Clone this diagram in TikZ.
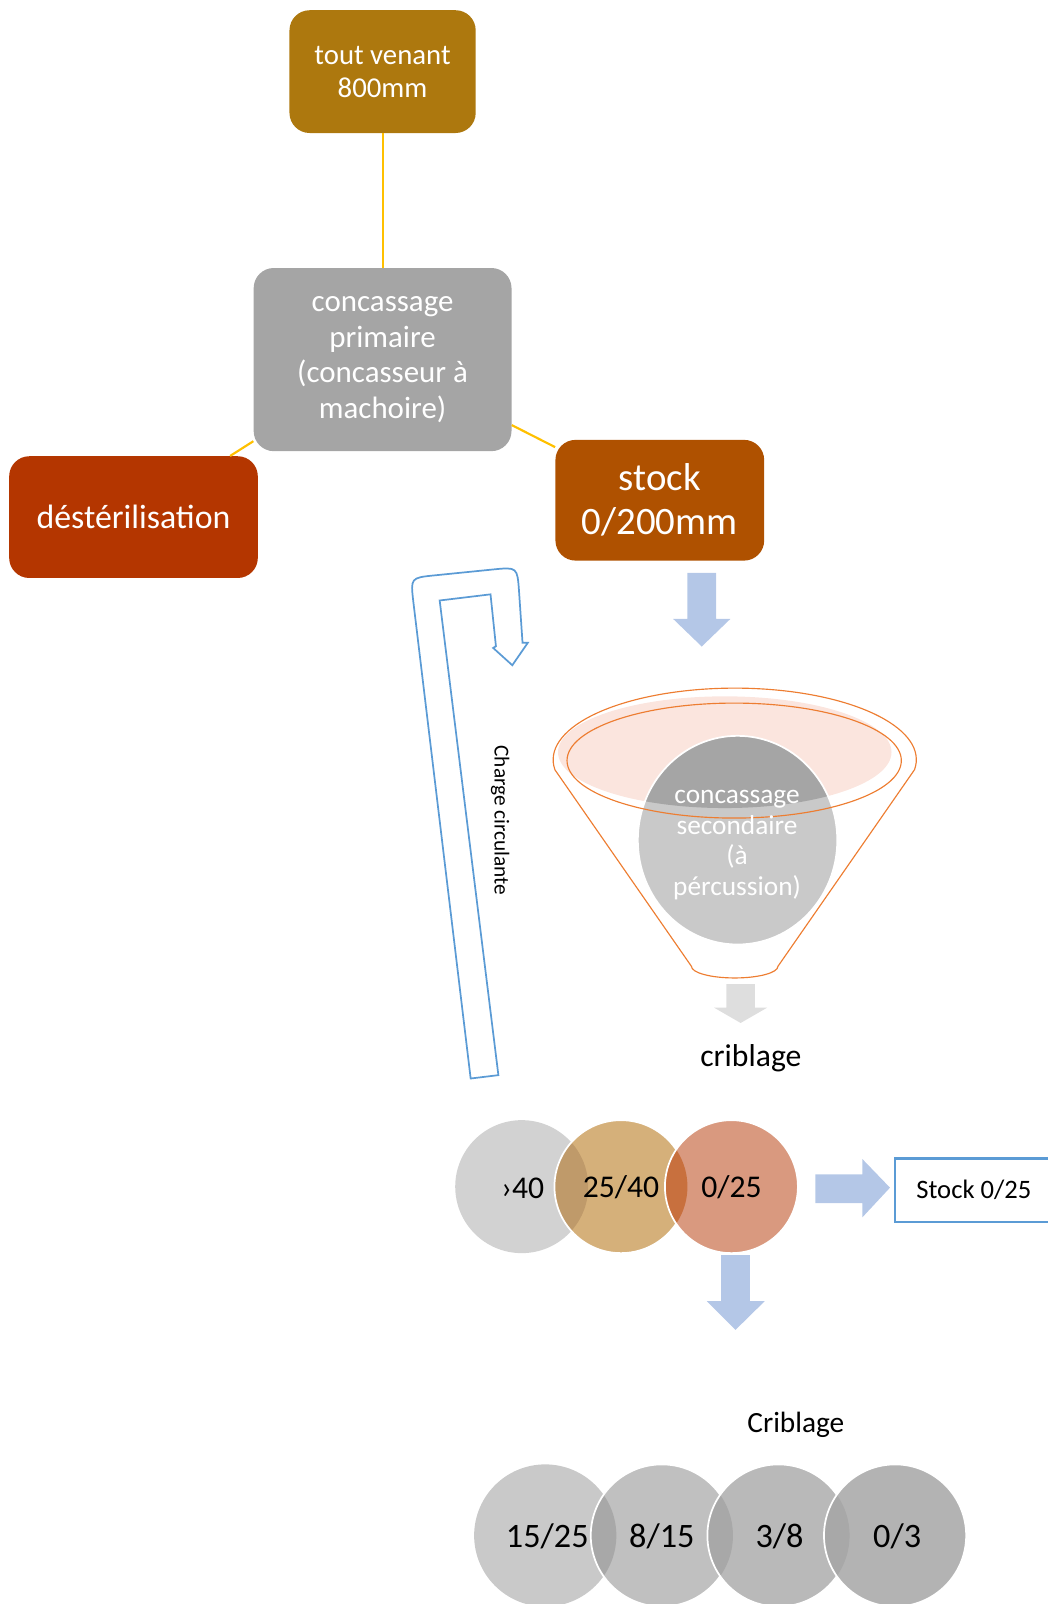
\documentclass[tikz,border=0pt]{standalone}
\usepackage{fontspec}
\setmainfont{Carlito}
\usepackage{tikz}

\definecolor{venantbrown}{RGB}{173,120,14}
\definecolor{primgray}{RGB}{165,165,165}
\definecolor{destred}{RGB}{180,54,0}
\definecolor{stockbrown}{RGB}{175,81,0}
\definecolor{linkyellow}{RGB}{255,192,0}
\definecolor{arrowblue}{RGB}{180,199,231}
\definecolor{loopblue}{RGB}{91,155,213}
\definecolor{funnelorange}{RGB}{237,125,49}
\definecolor{pinkfill}{RGB}{251,229,222}
\definecolor{secgray}{RGB}{201,201,201}
\definecolor{palearrow}{RGB}{222,222,222}
\definecolor{sievegray}{RGB}{210,210,210}
\definecolor{sievetan}{RGB}{213,176,122}
\definecolor{sievesalmon}{RGB}{217,153,127}
\definecolor{overtan}{RGB}{191,154,106}
\definecolor{oversalmon}{RGB}{200,112,62}
\definecolor{fineA}{RGB}{201,201,201}
\definecolor{fineB}{RGB}{192,192,192}
\definecolor{fineC}{RGB}{185,185,185}
\definecolor{fineD}{RGB}{179,179,179}
\definecolor{overfine}{RGB}{168,168,168}

\tikzset{
  procbox/.style={rectangle, rounded corners=14pt, text=white, align=center, inner sep=2pt},
  link/.style={draw=linkyellow, line width=1.5pt},
  blockarrow/.style={fill=arrowblue},
  funnelline/.style={draw=funnelorange, line width=0.8pt},
  rim/.style={draw=white, line width=1.2pt}
}

\begin{document}
\begin{tikzpicture}[x=0.025cm, y=-0.025cm]
    \useasboundingbox (0,0) rectangle (1024,1568);

    \node[procbox, fill=venantbrown, minimum width=4.55cm, minimum height=3cm,
          font=\fontsize{20}{23}\selectfont] (venant) at (374,70) {tout venant\\800mm};
    \node[procbox, fill=primgray, minimum width=6.3cm, minimum height=4.475cm,
          font=\fontsize{21.5}{24.7}\selectfont] (primaire) at (374,351.5)
          {concassage\\primaire\\(concasseur à\\machoire)};
    \node[procbox, fill=destred, minimum width=6.075cm, minimum height=2.975cm,
          font=\fontsize{23.5}{28}\selectfont] (desteril) at (130.5,505.5) {déstérilisation};
    \node[procbox, fill=stockbrown, minimum width=5.1cm, minimum height=2.95cm,
          font=\fontsize{27}{30.6}\selectfont] (stock) at (645,489) {stock\\0/200mm};

    \draw[link] (venant) -- (primaire);
    \draw[link] (primaire) -- (stock);
    \draw[link] (primaire) -- (desteril);

    \fill[blockarrow] (672,560) -- (700,560) -- (700,605) -- (714,605) -- (686,632)
      -- (658,605) -- (672,605) -- cycle;

    \draw[loopblue, line width=1.2pt] (460.1,1054.3) -- (404.1,588.6)
      .. controls (401.3,564.8) .. (425.2,562.4) -- (481.8,556.7)
      .. controls (505.7,554.3) .. (507.4,578.3) -- (510.8,628.3)
      -- (516,628.3) -- (500.8,650.3) -- (482.1,633.4) -- (484.8,631.7)
      -- (479.5,581) -- (429.8,587) -- (487.2,1051) -- cycle;
    \node[rotate=-90, font=\fontsize{14.8}{17}\selectfont] (charge) at (489,802) {Charge circulante};

    \begin{scope}
      \fill[pinkfill] (708.5,735.3) ellipse [x radius=163, y radius=54.6];
      \fill[secgray] (721,821.3) ellipse [x radius=97.5, y radius=102];
      \begin{scope}
        \clip (708.5,735.3) ellipse [x radius=163, y radius=54.6];
        \fill[primgray] (721,821.3) ellipse [x radius=97.5, y radius=102];
      \end{scope}
      \draw[rim] (721,821.3) ellipse [x radius=97.5, y radius=102];
      \draw[funnelline] (717.7,743.5) ellipse [x radius=163.4, y radius=56.2];
      \draw[funnelline] (542.4,752.4) -- (675.9,944.6)
        arc [start angle=180, end angle=0, x radius=42.3, y radius=11.4]
        -- (894,752.4) arc [start angle=8, end angle=-188, x radius=177.5, y radius=70];
    \end{scope}
    \node[text=white, align=center, font=\fontsize{19}{21.3}\selectfont] (secondaire) at (720.5,826)
      {concassage\\secondaire\\(à\\pércussion)};

    \fill[palearrow] (710,962) -- (738,962) -- (738,985) -- (750,985) -- (724,1000)
      -- (698,985) -- (710,985) -- cycle;
    \node[font=\fontsize{22}{26}\selectfont] (criblage) at (734,1034) {criblage};

    \fill[sievegray] (510,1160) circle [radius=65];
    \fill[sievetan] (607,1160) circle [radius=65];
    \begin{scope}
      \clip (510,1160) circle [radius=65];
      \fill[overtan] (607,1160) circle [radius=65];
    \end{scope}
    \draw[rim] (607,1160) circle [radius=65];
    \fill[sievesalmon] (715,1160) circle [radius=65];
    \begin{scope}
      \clip (607,1160) circle [radius=65];
      \fill[oversalmon] (715,1160) circle [radius=65];
    \end{scope}
    \draw[rim] (715,1160) circle [radius=65];

    \node[font=\fontsize{22}{26}\selectfont] (over40) at (511,1162) {›40};
    \node[font=\fontsize{22}{26}\selectfont] (mid2540) at (607,1161) {25/40};
    \node[font=\fontsize{22}{26}\selectfont] (fine025) at (715,1161) {0/25};

    \fill[blockarrow] (797,1148) -- (843,1148) -- (843,1133) -- (870,1161) -- (843,1190)
      -- (843,1176) -- (797,1176) -- cycle;
    \node[draw=loopblue, line width=1.5pt, fill=white, minimum width=3.85cm, minimum height=1.55cm,
          font=\fontsize{18.5}{22}\selectfont] (stockfin) at (952,1163.5) {Stock 0/25};

    \fill[blockarrow] (705,1227) -- (733,1227) -- (733,1272) -- (747.5,1272) -- (719,1300)
      -- (691,1272) -- (705,1272) -- cycle;
    \node[font=\fontsize{20.4}{24}\selectfont] (criblage2) at (778,1393) {Criblage};

    \fill[fineA] (533,1501) circle [radius=69.5];
    \fill[fineB] (647,1501) circle [radius=69.5];
    \begin{scope}
      \clip (533,1501) circle [radius=69.5];
      \fill[overfine] (647,1501) circle [radius=69.5];
    \end{scope}
    \draw[rim] (647,1501) circle [radius=69.5];
    \fill[fineC] (761,1501) circle [radius=69.5];
    \begin{scope}
      \clip (647,1501) circle [radius=69.5];
      \fill[overfine] (761,1501) circle [radius=69.5];
    \end{scope}
    \draw[rim] (761,1501) circle [radius=69.5];
    \fill[fineD] (875,1501) circle [radius=69.5];
    \begin{scope}
      \clip (761,1501) circle [radius=69.5];
      \fill[overfine] (875,1501) circle [radius=69.5];
    \end{scope}
    \draw[rim] (875,1501) circle [radius=69.5];

    \node[font=\fontsize{23.8}{28}\selectfont] (c1525) at (535,1502) {15/25};
    \node[font=\fontsize{23.8}{28}\selectfont] (c815) at (647,1502) {8/15};
    \node[font=\fontsize{23.8}{28}\selectfont] (c38) at (762,1502) {3/8};
    \node[font=\fontsize{23.8}{28}\selectfont] (c03) at (877,1502) {0/3};
  \end{tikzpicture}
\end{document}
